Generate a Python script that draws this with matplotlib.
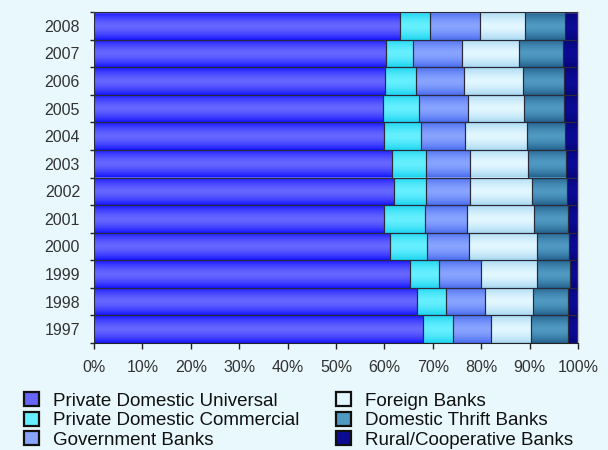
import numpy as np
import matplotlib
matplotlib.use("Agg")
import matplotlib.pyplot as plt
from matplotlib.colors import LinearSegmentedColormap
from matplotlib.patches import Patch

plt.rcParams['font.family'] = ['Liberation Sans', 'DejaVu Sans']

years = ['1997', '1998', '1999', '2000', '2001', '2002', '2003', '2004', '2005', '2006', '2007', '2008']
series_names = ['Private Domestic Universal', 'Private Domestic Commercial', 'Government Banks',
                'Foreign Banks', 'Domestic Thrift Banks', 'Rural/Cooperative Banks']
private_universal = [67.9, 66.8, 65.2, 61.2, 59.9, 61.9, 61.5, 60.0, 59.7, 60.1, 60.3, 63.2]
private_commercial = [6.3, 5.9, 6.0, 7.7, 8.4, 6.7, 7.0, 7.5, 7.5, 6.4, 5.7, 6.2]
government = [7.8, 8.1, 8.8, 8.6, 8.7, 9.1, 9.2, 9.2, 10.0, 9.9, 10.0, 10.3]
foreign = [8.3, 9.8, 11.5, 14.0, 13.9, 12.8, 11.9, 12.8, 11.7, 12.3, 11.8, 9.4]
thrift = [7.7, 7.4, 6.8, 6.6, 7.1, 7.2, 7.9, 7.8, 8.3, 8.5, 9.0, 8.2]
rural = [2.0, 2.0, 1.7, 1.9, 2.0, 2.3, 2.5, 2.7, 2.8, 2.8, 3.2, 2.7]
xtick_vals = [0, 10, 20, 30, 40, 50, 60, 70, 80, 90, 100]
xtick_labels = ['0%', '10%', '20%', '30%', '40%', '50%', '60%', '70%', '80%', '90%', '100%']

series = [private_universal, private_commercial, government, foreign, thrift, rural]
center_colors = ['#6666FF', '#66F0FF', '#88A4FF', '#E2F7FF', '#4F99C2', '#0B0B96']
edge_colors = ['#1515FF', '#1CD4F0', '#4A6CF0', '#A8D8F2', '#23628E', '#06067A']
bg = '#E8F8FC'

fig = plt.figure(figsize=(6.08, 4.5), dpi=100, facecolor=bg)
ax = fig.add_axes([94/608, 1-343/450, (578-94)/608, (343-12)/450])
ax.set_facecolor(bg)

y = np.arange(len(years))
left = np.zeros(len(years))
t = np.linspace(0, 1, 128)
grad = (1 - np.abs(2*t - 1)**1.6).reshape(-1, 1)
for vals, cc, ec, name in zip(series, center_colors, edge_colors, series_names):
    vals = np.array(vals)
    bars = ax.barh(y, vals, left=left, height=1.0, color=cc, linewidth=0,
                   label=name, zorder=2)
    cmap = LinearSegmentedColormap.from_list('g', [ec, cc])
    for p in bars.patches:
        x0, y0 = p.get_x(), p.get_y()
        im = ax.imshow(grad, extent=(x0, x0 + p.get_width(), y0, y0 + p.get_height()),
                       cmap=cmap, vmin=0, vmax=1, aspect='auto', origin='lower',
                       interpolation='bilinear', zorder=2.5)
        im.set_clip_path(p)
    ax.barh(y, vals, left=left, height=1.0, fill=False, edgecolor='#2A2A3A',
            linewidth=0.8, zorder=3)
    left = left + vals

ax.set_xlim(0, 100)
ax.set_ylim(-0.5, len(years) - 0.5)
ax.set_xticks(xtick_vals)
ax.set_xticklabels(xtick_labels)
ax.set_yticks(y)
ax.set_yticklabels(years)
ax.set_yticks(np.arange(-0.5, len(years), 1.0), minor=True)
ax.tick_params(axis='y', which='major', length=0, pad=10, labelsize=11.5, labelcolor='#333333')
ax.tick_params(axis='y', which='minor', length=3, width=1, color='#222222')
ax.tick_params(axis='x', which='major', length=4, width=1, color='#222222', pad=8,
               labelsize=11.5, labelcolor='#333333')

for s in ['top', 'right']:
    ax.spines[s].set_color('#C4C4C4')
    ax.spines[s].set_linewidth(1.0)
ax.spines['left'].set_color('#808080')
ax.spines['bottom'].set_color('#222222')

handles = [Patch(facecolor=c, edgecolor='#111111', linewidth=1.6) for c in center_colors]
fig.legend(handles, series_names, ncol=2,
           loc='upper left', bbox_to_anchor=(24/608, 1-392/450), frameon=False,
           fontsize=13.5, handlelength=0.8, handleheight=0.8, handletextpad=0.75,
           labelspacing=0.1, columnspacing=1.95, borderpad=0, borderaxespad=0,
           labelcolor='#111111')

fig.savefig('out.png', dpi=100, facecolor=bg)
